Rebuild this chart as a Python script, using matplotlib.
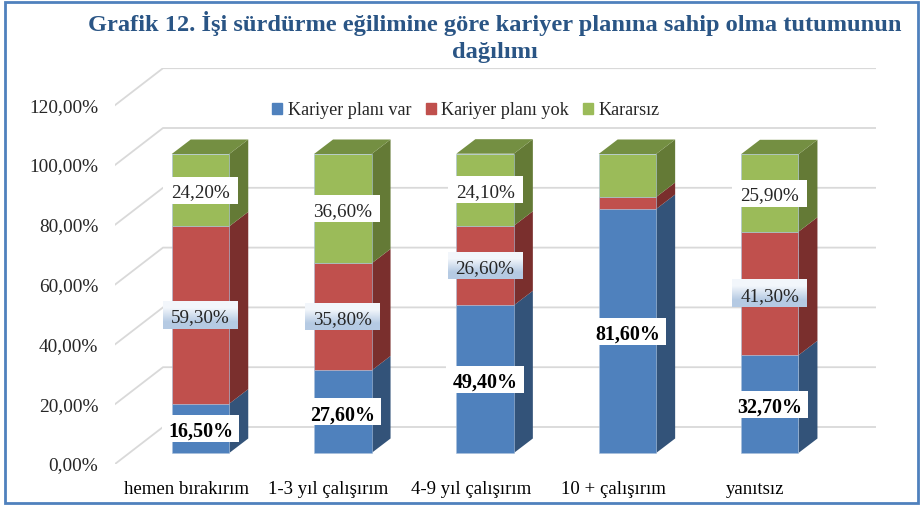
import numpy as np
import matplotlib
matplotlib.use("Agg")
import matplotlib.pyplot as plt
from matplotlib.patches import Patch, Rectangle
from matplotlib.colors import LinearSegmentedColormap

plt.rcParams['font.family'] = ['Liberation Serif', 'DejaVu Serif']

title = "Grafik 12. İşi sürdürme eğilimine göre kariyer planına sahip olma tutumunun\ndağılımı"
categories = ["hemen bırakırım", "1-3 yıl çalışırım", "4-9 yıl çalışırım", "10 + çalışırım", "yanıtsız"]
series_names = ["Kariyer planı var", "Kariyer planı yok", "Kararsız"]
plan_var = [16.5, 27.6, 49.4, 81.6, 32.7]
plan_yok = [59.3, 35.8, 26.6, 4.0, 41.3]
kararsiz = [24.2, 36.6, 24.1, 14.4, 25.9]
labelled = [[True] * 5, [True, True, True, False, True], [True, True, True, False, True]]
y_ticks = [0, 20, 40, 60, 80, 100, 120]

W, H = 922, 507
face = ["#4F81BD", "#C0504D", "#9BBB59"]
side = ["#335379", "#7A2F2D", "#647A36"]
top_c = "#748F42"
grid_c = "#D9D9D9"
text_c = "#262626"

fig = plt.figure(figsize=(W / 100, H / 100), dpi=100, facecolor="white")
L, R, B, T = 115, 876, 464, 68
ax = fig.add_axes([L / W, 1 - B / H, (R - L) / W, (B - T) / H])
ax.patch.set_visible(False)
for s in ax.spines.values():
    s.set_visible(False)

# scale: 142.3 px per category, 2.99 px per percent
px_x, px_y = 142.3, 2.99
x0_px, y0_px = 200.5, 453
xlim = ((L - x0_px) / px_x, (R - x0_px) / px_x)
ylim = ((y0_px - B) / px_y, (y0_px - T) / px_y)

front_off = ylim[0]          # front plane of the axis relative to bar base
wall_dx, wall_dy = 48 / px_x, 37 / px_y
bar_w = 57.5 / px_x
depth_dx, depth_dy = 19 / px_x, 14.5 / px_y

# gridlines: side wall diagonals + back wall
for v in y_ticks:
    y = v + front_off
    ax.plot([xlim[0], xlim[0] + wall_dx, xlim[1]], [y, y + wall_dy, y + wall_dy],
            color=grid_c, lw=1.3, zorder=1, solid_joinstyle="miter")

# stacks
x = np.arange(len(categories))
series = [plan_var, plan_yok, kararsiz]
bottom = np.zeros(len(categories))
for k, vals in enumerate(series):
    vals = np.array(vals)
    ax.bar(x, vals, bar_w, bottom=bottom, color=face[k], zorder=3,
           edgecolor="#A8C0DC", linewidth=0.4)
    for xi, b, v in zip(x, bottom, vals):
        xr = xi + bar_w / 2
        ax.fill([xr, xr + depth_dx, xr + depth_dx, xr],
                [b, b + depth_dy, b + v + depth_dy, b + v],
                color=side[k], zorder=2.5, lw=0)
    bottom = bottom + vals
for xi, t in zip(x, bottom):
    xl, xr = xi - bar_w / 2, xi + bar_w / 2
    ax.fill([xl, xr, xr + depth_dx, xl + depth_dx],
            [t, t, t + depth_dy, t + depth_dy], color=top_c, zorder=2.6, lw=0)

# data labels
grad = LinearSegmentedColormap.from_list("g", ["#F2F6FB", "#B5CAE3"])
box_hw, box_hh = 37.5 / px_x, 13.5 / px_y
bottom = np.zeros(len(categories))
for k, vals in enumerate(series):
    for i, v in enumerate(vals):
        ym = bottom[i] + v / 2
        if labelled[k][i]:
            hw = box_hw * (1.03 if k == 0 else 1)
            ext = (i - hw, i + hw, ym - box_hh, ym + box_hh)
            if k == 1:
                ax.imshow([[0.0], [1.0]], cmap=grad, extent=ext, aspect="auto",
                          origin="upper", zorder=4, interpolation="bilinear")
            else:
                ax.add_patch(Rectangle((ext[0], ext[2]), 2 * hw, 2 * box_hh,
                                       fc="white", ec="none", zorder=4))
            ax.text(i, ym - 0.3, f"{v:.2f}%".replace(".", ","), ha="center", va="center_baseline",
                    fontsize=14.4 if k == 0 else 13.8, color="black" if k == 0 else text_c,
                    fontweight="bold" if k == 0 else "normal", zorder=5)
    bottom = bottom + np.array(vals)

ax.set_xlim(*xlim)
ax.set_ylim(*ylim)

# ticks
ax.set_yticks([v + front_off for v in y_ticks])
ax.set_yticklabels([f"{v:.2f}%".replace(".", ",") for v in y_ticks], fontsize=13.9, color=text_c)
ax.set_xticks(x - 0.1)
ax.set_xticklabels(categories, fontsize=13.5, color="black")
ax.tick_params(axis="both", length=0)
ax.tick_params(axis="y", pad=12)
ax.tick_params(axis="x", pad=12.5)

# legend
handles = [Patch(color=c) for c in face]
ax.legend(handles, series_names, ncol=3, frameon=False, fontsize=13.1,
          loc="center", bbox_to_anchor=(466 / W, 1 - 110.5 / H), bbox_transform=fig.transFigure,
          handlelength=0.55, handleheight=0.6, handletextpad=0.3, columnspacing=0.8,
          borderpad=0, labelcolor=text_c).set_zorder(6)

fig.text(494.5 / W, 1 - 37 / H, title, ha="center", va="center", fontsize=17.6,
         fontweight="bold", color="#2A5585", linespacing=1.32)

# frame
fig.add_artist(Rectangle((5 / W, 1 - 503 / H), 913 / W, 501 / H, transform=fig.transFigure,
                         fc="none", ec="#4F81BD", lw=2.0))

fig.savefig("out.png", dpi=100)
